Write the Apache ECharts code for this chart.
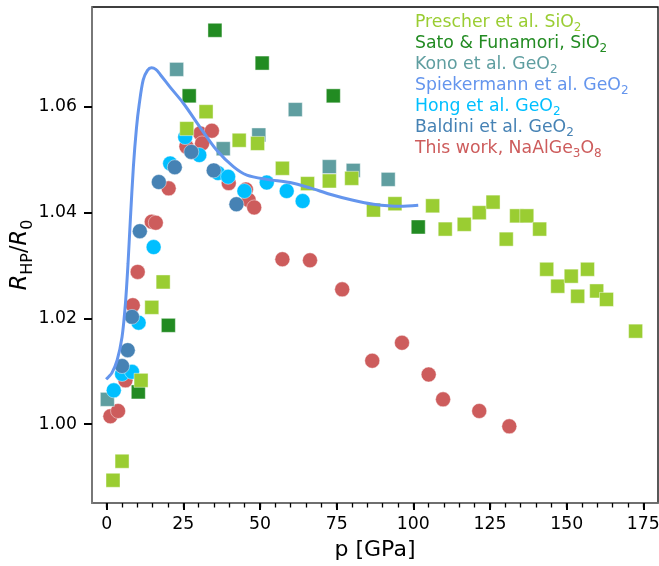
<!DOCTYPE html>
<html>
<head>
<meta charset="utf-8">
<script src="https://cdn.jsdelivr.net/npm/echarts@6/dist/echarts.min.js"></script>
<style>html,body{margin:0;padding:0;background:#fff}#c{width:659px;height:566px}</style>
</head>
<body>
<div id="c"></div>
<script>
// ---- data ----
const prescherX = [2.05,5.0,11.2,14.7,18.4,26.1,32.4,43.2,49.2,57.3,65.5,72.6,79.9,87.0,94.0,106.3,110.4,116.6,121.5,126.0,130.3,133.7,137.0,141.2,143.5,147.1,151.5,156.8,153.6,159.8,163.0,172.5];
const prescherY = [0.9894,0.9930,1.0083,1.0221,1.0269,1.0559,1.0591,1.0537,1.0531,1.0484,1.0455,1.0460,1.0465,1.0405,1.0417,1.0413,1.0369,1.0378,1.0400,1.0420,1.0350,1.0394,1.0394,1.0369,1.0293,1.0261,1.0280,1.0293,1.0242,1.0252,1.0236,1.0176];
const satoX = [10.3,20.1,26.9,35.3,50.7,73.9,101.6];
const satoY = [1.0061,1.0187,1.0621,1.0745,1.0683,1.0621,1.0373];
const konoX = [0.2,22.8,38.0,49.6,61.5,72.6,80.4,91.8];
const konoY = [1.0047,1.0671,1.0521,1.0547,1.0595,1.0487,1.0480,1.0463];
const spiekX = [-0.2,0.5,1.7,3.4,5.0,6.1,6.95,7.7,8.7,9.7,10.6,11.9,13.3,14.6,16.0,17.5,20.6,25.0,30.4,35.9,41.3,45.7,52.2,59.8,66.3,72.8,80.0,87.0,95.7,101.6];
const spiekY = [1.0085,1.0089,1.0097,1.0121,1.0165,1.0228,1.0304,1.0386,1.0487,1.0560,1.0605,1.0651,1.0669,1.0674,1.0671,1.0661,1.0638,1.0607,1.0562,1.0518,1.0487,1.0471,1.0463,1.0457,1.0447,1.0435,1.0424,1.0416,1.0412,1.0414];
const hongX = [2.3,5.0,8.25,10.4,15.3,20.7,25.6,30.2,36.3,39.6,44.9,52.2,58.7,63.9];
const hongY = [1.0064,1.0095,1.0099,1.0192,1.0335,1.0493,1.0543,1.0509,1.0475,1.0468,1.0441,1.0457,1.0441,1.0422];
const baldiniX = [5.0,6.85,8.25,10.8,17.0,22.2,27.6,34.9,42.3];
const baldiniY = [1.0110,1.0140,1.0203,1.0365,1.0458,1.0486,1.0515,1.0480,1.0416];
const thisX = [1.2,3.7,6.1,8.5,10.1,14.7,16.0,20.2,26.0,30.5,31.1,34.3,39.8,45.4,46.3,48.1,57.3,66.3,76.8,86.6,96.3,105.0,109.7,121.5,131.3];
const thisY = [1.0015,1.0025,1.0083,1.0225,1.0288,1.0383,1.0381,1.0446,1.0525,1.0550,1.0531,1.0555,1.0456,1.0444,1.0424,1.0410,1.0312,1.0310,1.0255,1.0120,1.0154,1.0094,1.0047,1.0025,0.9996];
const xTicks = [0,25,50,75,100,125,150,175];
const xMinorTicks = [-5,0,5,10,15,20,25,30,35,40,45,50,55,60,65,70,75,80,85,90,95,100,105,110,115,120,125,130,135,140,145,150,155,160,165,170,175,180];
const yTicks = [1.00,1.02,1.04,1.06];
const names = ['Prescher et al. SiO2','Sato & Funamori, SiO2','Kono et al. GeO2','Spiekermann et al. GeO2','Hong et al. GeO2','Baldini et al. GeO2','This work, NaAlGe3O8'];
const legendText = [
  ['Prescher et al. SiO','2'],
  ['Sato & Funamori, SiO','2'],
  ['Kono et al. GeO','2'],
  ['Spiekermann et al. GeO','2'],
  ['Hong et al. GeO','2'],
  ['Baldini et al. GeO','2'],
  ['This work, NaAlGe','3','O','8']
];
const colors = ['#9acd32','#228b22','#5f9ea0','#6495ed','#00bfff','#4682b4','#cd5c5c'];

const zip = (xs, ys) => xs.map((x, i) => [x, ys[i]]);
const FONT = 'DejaVu Sans';

const rich = {};
colors.forEach((c, i) => {
  rich['m' + i] = {color: c, fontSize: 17.3, fontFamily: FONT, lineHeight: 21.8, verticalAlign: 'bottom', padding: [0,0,1,0]};
  rich['s' + i] = {color: c, fontSize: 12, fontFamily: FONT, lineHeight: 12, verticalAlign: 'bottom', padding: [0,0,-2,0]};
});

function legendFormatter(name) {
  const i = names.indexOf(name);
  const t = legendText[i];
  let out = '{m' + i + '|' + t[0] + '}{s' + i + '|' + t[1] + '}';
  if (t.length > 2) out += '{m' + i + '|' + t[2] + '}{s' + i + '|' + t[3] + '}';
  return out;
}

const chart = echarts.init(document.getElementById('c'), null, {renderer: 'canvas'});
const scatterBase = (name, xs, ys, sym, size, idx) => ({
  name, type: 'scatter', data: zip(xs, ys), symbol: sym, symbolSize: size,
  itemStyle: {color: colors[idx], opacity: 1, borderColor: 'rgba(255,255,255,0.55)', borderWidth: 0.8},
  emphasis: {disabled: true}, xAxisIndex: 0, yAxisIndex: 0
});

chart.setOption({
  animation: false,
  backgroundColor: '#fff',
  grid: {left: 92, right: 1, top: 7, bottom: 63, containLabel: false, outerBoundsMode: 'none',
         show: true, borderColor: '#000', borderWidth: 1.3, backgroundColor: 'transparent'},
  legend: {
    orient: 'vertical', left: 410, top: 14, padding: 0, itemWidth: 0, itemHeight: 0, itemGap: 1,
    selectedMode: false,
    data: names.map((n) => ({name: n, icon: 'none'})),
    formatter: legendFormatter,
    textStyle: {fontFamily: FONT, fontSize: 17.3, rich: rich, padding: 0}
  },
  xAxis: [{
    type: 'value', min: -4.8, max: 179.8,
    name: 'p [GPa]', nameLocation: 'middle', nameGap: 36, nameMoveOverlap: false,
    nameTextStyle: {fontFamily: FONT, fontSize: 22, color: '#000'},
    axisLine: {show: true, onZero: false, lineStyle: {color: '#808080', width: 1.6}},
    axisTick: {show: true, inside: false, length: 7, customValues: xTicks, lineStyle: {color: '#000', width: 2}},
    axisLabel: {show: true, margin: 13, customValues: xTicks, fontFamily: FONT, fontSize: 17.3, color: '#000'},
    splitLine: {show: false}
  }, {
    type: 'value', min: -4.8, max: 179.8, position: 'bottom',
    axisLine: {show: false},
    axisTick: {show: true, inside: false, length: 4.5, customValues: xMinorTicks, lineStyle: {color: '#000', width: 1.3}},
    axisLabel: {show: false},
    splitLine: {show: false}
  }],
  yAxis: [{
    type: 'value', min: 0.9851, max: 1.0789,
    name: '{i|R}{s|HP}{n|/}{i|R}{s|0}', nameLocation: 'middle', nameGap: 60, nameRotate: 90, nameMoveOverlap: false,
    nameTextStyle: {
      rich: {
        i: {fontFamily: FONT, fontSize: 22.5, fontStyle: 'italic', color: '#000', verticalAlign: 'bottom', lineHeight: 24},
        n: {fontFamily: FONT, fontSize: 22.5, color: '#000', verticalAlign: 'bottom', lineHeight: 24},
        s: {fontFamily: FONT, fontSize: 16, color: '#000', verticalAlign: 'bottom', lineHeight: 16, padding: [0,0,-4,0]}
      }
    },
    axisLine: {show: true, onZero: false, lineStyle: {color: '#808080', width: 1.6}},
    axisTick: {show: true, inside: false, length: 8, customValues: yTicks, lineStyle: {color: '#000', width: 2}},
    axisLabel: {show: true, margin: 15, customValues: yTicks, fontFamily: FONT, fontSize: 17.3, color: '#000', formatter: v => v.toFixed(2)},
    splitLine: {show: false}
  }],
  series: [
    scatterBase(names[6], thisX, thisY, 'circle', 15, 6),
    scatterBase(names[2], konoX, konoY, 'rect', 14, 2),
    scatterBase(names[4], hongX, hongY, 'circle', 15, 4),
    scatterBase(names[5], baldiniX, baldiniY, 'circle', 15, 5),
    scatterBase(names[1], satoX, satoY, 'rect', 14, 1),
    scatterBase(names[0], prescherX, prescherY, 'rect', 14, 0),
    {
      name: names[3], type: 'line', data: zip(spiekX, spiekY), smooth: 0.3, showSymbol: false, symbol: 'none',
      lineStyle: {color: colors[3], width: 3}, itemStyle: {color: colors[3]}, emphasis: {disabled: true}, z: 3
    }
  ]
});
</script>
</body>
</html>
